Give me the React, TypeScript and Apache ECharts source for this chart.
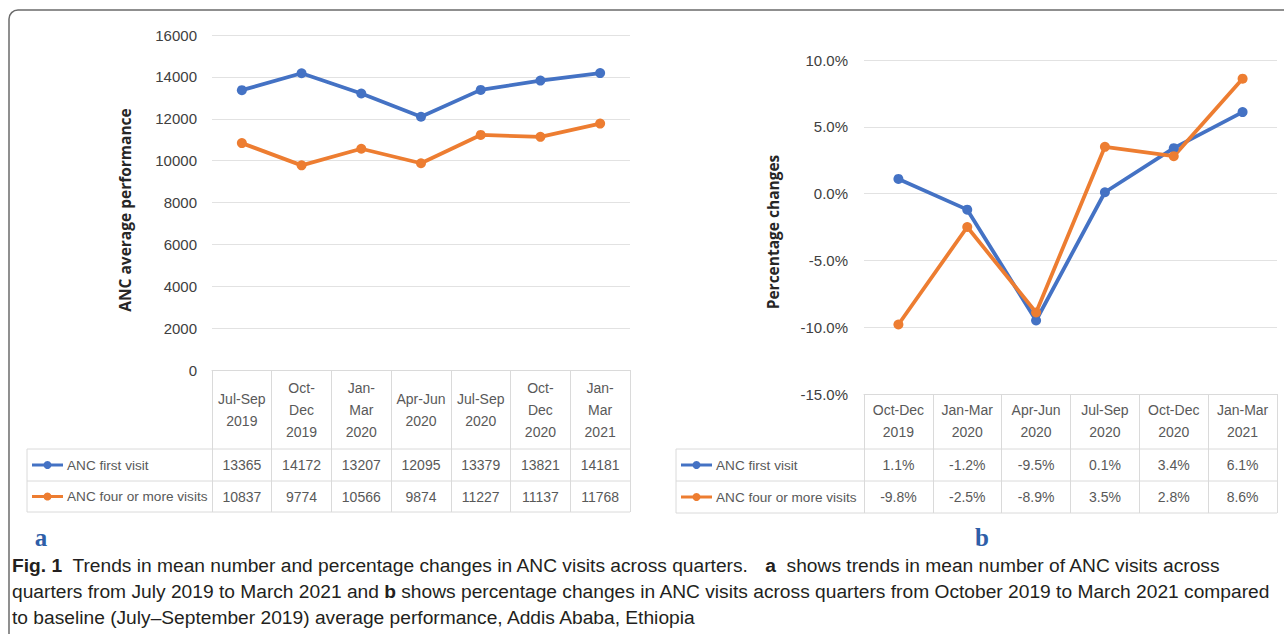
import React, { useEffect, useRef } from "react";
import * as echarts from "echarts";

// ---------- data ----------
const catsA = ["Jul-Sep\n2019", "Oct-\nDec\n2019", "Jan-\nMar\n2020", "Apr-Jun\n2020", "Jul-Sep\n2020", "Oct-\nDec\n2020", "Jan-\nMar\n2021"];
const firstA = [13365, 14172, 13207, 12095, 13379, 13821, 14181];
const fourA = [10837, 9774, 10566, 9874, 11227, 11137, 11768];

const catsB = ["Oct-Dec\n2019", "Jan-Mar\n2020", "Apr-Jun\n2020", "Jul-Sep\n2020", "Oct-Dec\n2020", "Jan-Mar\n2021"];
const firstB = [1.1, -1.2, -9.5, 0.1, 3.4, 6.1];
const fourB = [-9.8, -2.5, -8.9, 3.5, 2.8, 8.6];

const seriesNames = ["ANC first visit", "ANC four or more visits"];
const yTitleA = "ANC average performance";
const yTitleB = "Percentage changes";
const captionLines = [
  "{b|Fig. 1}  Trends in mean number and percentage changes in ANC visits across quarters.   {b|a}  shows trends in mean number of ANC visits across",
  "quarters from July 2019 to March 2021 and {b|b} shows percentage changes in ANC visits across quarters from October 2019 to March 2021 compared",
  "to baseline (July\u2013September 2019) average performance, Addis Ababa, Ethiopia",
];

// ---------- styles ----------
const BLUE = "#4472c4";
const ORANGE = "#ed7d31";
const FONT = '"Liberation Sans", Arial, sans-serif';
const TABLE_LINE = "#dadada";
const TXT = "#595959";

const LA = { gl: 212, gt: 35, gw: 418, gh: 335, tl: 27, head: 449, r1: 481, tb: 512, hc: 410 };
const LB = { gl: 864, gt: 60, gw: 413, gh: 334, tl: 676, head: 449, r1: 481, tb: 513, hc: 421 };

function tableAxes(L: any, gridIndex: number, cats: string[], rows: number[][], fmt: (v: number) => string) {
  const axisY = L.gt + L.gh;
  const axes: any[] = [
    {
      type: "category", gridIndex, data: cats, boundaryGap: true, position: "bottom",
      axisLine: { show: true, onZero: false, lineStyle: { color: TABLE_LINE, width: 1 } },
      axisTick: { show: true, interval: 0, length: L.tb - axisY, lineStyle: { color: TABLE_LINE } },
      axisLabel: { interval: 0, margin: L.hc - axisY, verticalAlign: "middle", lineHeight: 22, fontSize: 14, color: TXT, fontFamily: FONT },
      splitLine: { show: false },
    },
  ];
  const centers = [(L.head + L.r1) / 2, (L.r1 + L.tb) / 2];
  rows.forEach((vals, r) => {
    axes.push({
      type: "category", gridIndex, data: cats, boundaryGap: true, position: "bottom",
      axisLine: { show: false, onZero: false }, axisTick: { show: false }, splitLine: { show: false },
      axisLabel: {
        interval: 0, margin: centers[r] - axisY, verticalAlign: "middle", fontSize: 14, color: TXT, fontFamily: FONT,
        formatter: (_v: string, i: number) => fmt(vals[i]),
      },
    });
  });
  return axes;
}

function tableGraphics(L: any): any[] {
  const right = L.gl + L.gw;
  const g: any[] = [];
  [L.head, L.r1, L.tb].forEach((y) =>
    g.push({ type: "line", shape: { x1: L.tl, y1: y, x2: right, y2: y }, style: { stroke: TABLE_LINE, lineWidth: 1 }, silent: true })
  );
  g.push({ type: "line", shape: { x1: L.tl, y1: L.head, x2: L.tl, y2: L.tb }, style: { stroke: TABLE_LINE, lineWidth: 1 } });
  const centers = [(L.head + L.r1) / 2, (L.r1 + L.tb) / 2];
  [BLUE, ORANGE].forEach((c, i) => {
    const y = centers[i];
    g.push({ type: "line", shape: { x1: L.tl + 5, y1: y, x2: L.tl + 36, y2: y }, style: { stroke: c, lineWidth: 3 } });
    g.push({ type: "circle", shape: { cx: L.tl + 20.5, cy: y, r: 4 }, style: { fill: c } });
    g.push({ type: "text", x: L.tl + 40, y, style: { text: seriesNames[i], fontSize: 13.6, fill: TXT, fontFamily: FONT, verticalAlign: "middle" } });
  });
  return g;
}

function lineSeries(name: string, data: number[], color: string, xi: number, yi: number) {
  return {
    type: "line", name, data, xAxisIndex: xi, yAxisIndex: yi,
    symbol: "circle", symbolSize: 10,
    lineStyle: { color, width: 3.8 }, itemStyle: { color },
    z: 5,
  };
}

export default function App() {
  const ref = useRef<HTMLDivElement>(null);
  useEffect(() => {
    const chart = echarts.init(ref.current!, undefined, { renderer: "svg" });
    const xA = tableAxes(LA, 0, catsA, [firstA, fourA], (v) => String(v));
    const xB = tableAxes(LB, 1, catsB, [firstB, fourB], (v) => v.toFixed(1) + "%");
    const graphics: any[] = [
      { type: "rect", shape: { x: 9, y: 10, width: 1300, height: 660, r: 9 }, style: { fill: "none", stroke: "#6b6b6b", lineWidth: 1.5 } },
      ...tableGraphics(LA),
      ...tableGraphics(LB),
      { type: "text", x: 125, y: 210, rotation: Math.PI / 2, style: { text: yTitleA, fontSize: 15.5, fontWeight: "bold", fontFamily: '"Open Sans", "DejaVu Sans", sans-serif', fill: "#262626", align: "center", verticalAlign: "middle" } },
      { type: "text", x: 773, y: 232, rotation: Math.PI / 2, style: { text: yTitleB, fontSize: 15.5, fontWeight: "bold", fontFamily: '"Open Sans", "DejaVu Sans", sans-serif', fill: "#262626", align: "center", verticalAlign: "middle" } },
      { type: "text", x: 41, y: 537, style: { text: "a", fontSize: 25, fontWeight: "bold", fontFamily: '"Liberation Serif", "DejaVu Serif", serif', fill: "#2e5ea8", align: "center", verticalAlign: "middle" } },
      { type: "text", x: 982, y: 537, style: { text: "b", fontSize: 25, fontWeight: "bold", fontFamily: '"Liberation Serif", "DejaVu Serif", serif', fill: "#2e5ea8", align: "center", verticalAlign: "middle" } },
      ...captionLines.map((t, i) => ({
        type: "text", x: 12, y: 565 + i * 26,
        style: {
          text: t, fontSize: 19.2, fontFamily: FONT, fill: "#231f20", verticalAlign: "middle",
          rich: { b: { fontWeight: "bold", fontSize: 19.2, fontFamily: FONT, fill: "#231f20" } },
        },
      })),
    ];
    chart.setOption({
      animation: false,
      backgroundColor: "#ffffff",
      grid: [
        { left: LA.gl, top: LA.gt, width: LA.gw, height: LA.gh, outerBoundsMode: "none" },
        { left: LB.gl, top: LB.gt, width: LB.gw, height: LB.gh, outerBoundsMode: "none" },
      ],
      xAxis: [...xA, ...xB],
      yAxis: [
        {
          type: "value", gridIndex: 0, min: 0, max: 16000, interval: 2000,
          axisLine: { show: false }, axisTick: { show: false },
          splitLine: { lineStyle: { color: "#e2e2e2", width: 1 } },
          axisLabel: { margin: 15, fontSize: 15, color: "#404040", fontFamily: FONT, formatter: (v: number) => String(v) },
        },
        {
          type: "value", gridIndex: 1, min: -15, max: 10, interval: 5,
          axisLine: { show: false }, axisTick: { show: false },
          splitLine: { lineStyle: { color: "#e2e2e2", width: 1 } },
          axisLabel: { margin: 16, fontSize: 15, color: "#404040", fontFamily: FONT, formatter: (v: number) => v.toFixed(1) + "%" },
        },
      ],
      series: [
        lineSeries(seriesNames[0], firstA, BLUE, 0, 0),
        lineSeries(seriesNames[1], fourA, ORANGE, 0, 0),
        lineSeries(seriesNames[0], firstB, BLUE, 3, 1),
        lineSeries(seriesNames[1], fourB, ORANGE, 3, 1),
      ],
      graphic: graphics,
    });
    return () => chart.dispose();
  }, []);
  return <div ref={ref} style={{ position: "fixed", left: 0, top: 0, width: 1284, height: 634 }} />;
}
